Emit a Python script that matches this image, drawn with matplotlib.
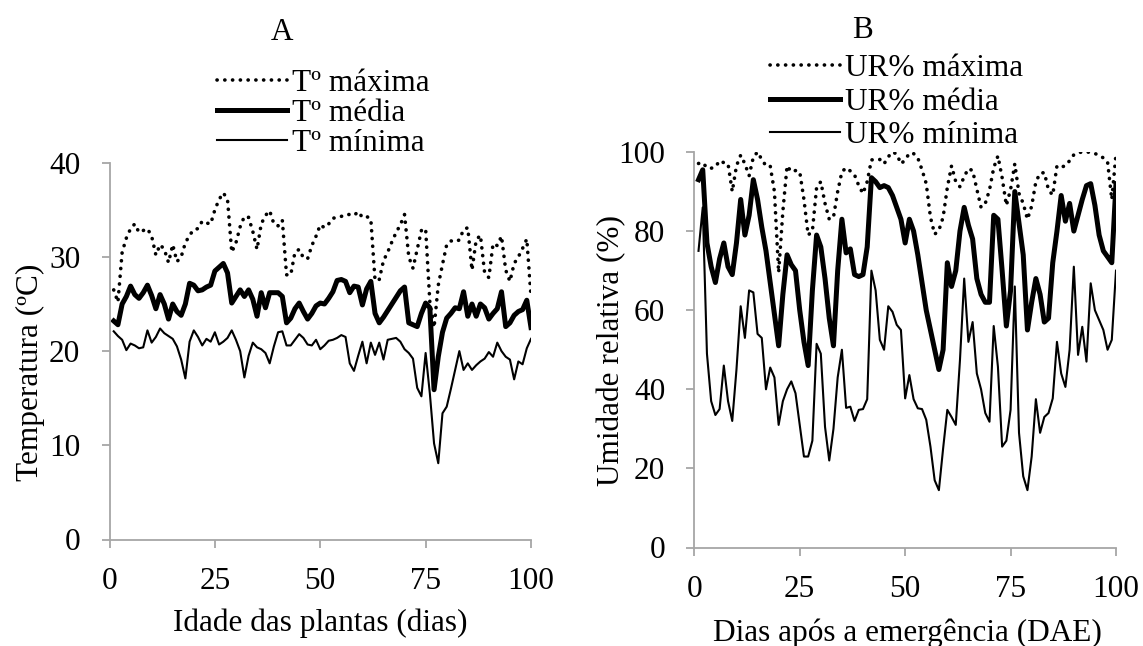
import matplotlib
matplotlib.use("Agg")
import matplotlib.pyplot as plt
from matplotlib.lines import Line2D

plt.rcParams['font.family'] = ['Liberation Serif', 'DejaVu Serif']

days = list(range(1, 101))

# Panel A - temperature (ºC)
t_max = [26.5, 25.2, 30.5, 32.0, 33.0, 33.5, 32.6, 32.8, 33.0, 32.2,
         30.2, 31.3, 30.8, 29.4, 31.3, 29.5, 30.0, 31.5, 32.3, 32.9,
         33.0, 33.8, 33.6, 33.5, 35.0, 36.1, 36.8, 36.1, 30.5, 31.5,
         33.2, 34.3, 34.2, 32.7, 30.8, 33.5, 34.4, 34.9, 33.5, 33.3,
         33.9, 28.1, 28.1, 30.5, 30.8, 29.9, 29.8, 31.2, 32.2, 33.4,
         33.1, 33.5, 34.1, 34.2, 34.3, 34.5, 34.5, 34.4, 34.8, 34.2,
         34.3, 34.0, 27.5, 27.6, 29.6, 30.5, 31.6, 32.6, 33.4, 34.5,
         30.0, 28.8, 30.8, 32.8, 33.0, 25.2, 22.5, 27.0, 29.2, 31.3,
         31.7, 31.6, 31.8, 32.9, 33.1, 28.6, 31.8, 32.3, 28.3, 27.8,
         31.4, 31.2, 32.2, 28.6, 27.4, 29.3, 30.0, 30.9, 31.9, 25.8]
t_med = [23.2, 22.8, 25.0, 25.8, 26.9, 26.0, 25.6, 26.2, 27.0, 25.9,
         24.5, 26.0, 25.0, 23.4, 25.0, 24.2, 23.8, 25.0, 27.2, 27.0,
         26.4, 26.5, 26.8, 27.0, 28.5, 28.9, 29.3, 28.3, 25.1, 25.8,
         26.5, 25.8, 26.5, 25.5, 23.7, 26.2, 24.6, 26.2, 26.2, 26.2,
         25.8, 23.0, 23.5, 24.5, 25.1, 24.2, 23.4, 24.0, 24.8, 25.1,
         25.0, 25.6, 26.3, 27.5, 27.6, 27.4, 26.2, 26.9, 26.8, 24.9,
         26.6, 27.4, 24.0, 23.0, 23.6, 24.3, 25.0, 25.7, 26.4, 26.8,
         23.0, 22.8, 22.6, 24.0, 25.1, 24.6, 15.9, 19.4, 22.0, 23.5,
         24.0, 24.6, 24.5, 26.3, 23.7, 25.0, 23.7, 25.0, 24.6, 23.4,
         24.0, 24.5, 26.3, 22.6, 23.0, 23.8, 24.2, 24.4, 25.4, 22.5]
t_min = [22.1, 21.6, 21.2, 20.1, 20.8, 20.6, 20.3, 20.4, 22.2, 20.9,
         21.5, 22.4, 21.9, 21.6, 21.3, 20.5, 19.1, 17.1, 21.0, 22.2,
         21.5, 20.6, 21.3, 21.0, 22.0, 20.7, 21.0, 21.4, 22.2, 21.2,
         20.0, 17.2, 19.5, 20.9, 20.4, 20.2, 19.8, 18.7, 20.5, 22.0,
         22.1, 20.6, 20.6, 21.2, 21.8, 21.4, 20.7, 20.6, 21.2, 20.2,
         20.6, 21.1, 21.2, 21.4, 21.7, 21.5, 18.7, 17.9, 19.5, 21.0,
         18.7, 20.9, 19.6, 20.9, 19.1, 21.2, 21.3, 21.4, 21.0, 20.2,
         19.8, 19.2, 16.1, 15.2, 19.8, 15.5, 10.2, 8.1, 13.4, 14.1,
         16.0, 18.0, 20.0, 18.0, 18.7, 18.0, 18.5, 18.9, 19.2, 19.9,
         19.4, 20.9, 20.0, 19.4, 19.1, 17.0, 18.9, 18.6, 20.3, 21.3]

# Panel B - relative humidity (%)
ur_max = [97.1, 97.3, 96.0, 95.9, 96.2, 97.8, 97.3, 97.0, 90.0, 96.5,
          99.2, 97.0, 94.0, 98.7, 100.0, 98.1, 96.5, 96.5, 90.0, 69.5,
          85.0, 96.5, 95.0, 95.3, 95.0, 88.0, 79.0, 80.0, 91.0, 92.5,
          87.0, 83.0, 83.5, 90.0, 95.0, 96.0, 95.2, 94.2, 91.5, 89.5,
          92.5, 98.0, 98.1, 98.1, 97.0, 98.8, 100.0, 99.5, 97.0, 98.0,
          99.7, 99.6, 98.5, 95.5, 92.0, 83.5, 79.2, 80.2, 83.5, 91.0,
          96.5, 92.5, 91.2, 93.8, 95.8, 95.3, 90.6, 86.0, 87.0, 90.4,
          96.0, 99.0, 93.5, 86.5, 90.5, 97.0, 89.5, 87.0, 83.0, 86.3,
          92.5, 94.6, 94.8, 90.4, 89.1, 96.5, 96.2, 96.5, 97.8, 99.3,
          99.8, 100.0, 100.0, 99.9, 99.6, 99.2, 98.5, 97.5, 88.0, 99.5]
ur_med = [93.0, 95.5, 77.0, 71.0, 67.0, 73.0, 77.0, 71.0, 69.0, 77.0,
          88.0, 79.0, 84.0, 93.0, 88.0, 81.0, 75.0, 67.0, 59.0, 51.0,
          64.0, 74.0, 71.5, 70.0, 60.0, 52.0, 46.0, 65.0, 79.0, 76.0,
          68.0, 58.0, 51.0, 70.0, 83.0, 74.5, 75.5, 69.0, 68.5, 69.0,
          76.0, 93.5, 92.5, 91.0, 91.5, 91.0, 89.0, 86.0, 83.0, 77.0,
          83.0, 80.0, 74.0, 67.0, 60.0, 55.0, 50.0, 45.0, 50.0, 72.0,
          66.0, 70.0, 80.0, 86.0, 81.5, 78.0, 68.0, 64.0, 62.0, 62.0,
          84.0, 83.0, 70.0, 56.0, 65.0, 90.0, 82.0, 74.0, 55.0, 62.0,
          68.0, 64.0, 57.0, 58.0, 72.0, 80.0, 89.0, 82.5, 87.0, 80.0,
          84.0, 88.0, 91.5, 92.0, 86.5, 79.0, 75.0, 73.5, 72.0, 92.0]
ur_min = [75.0, 86.0, 49.0, 37.0, 33.5, 35.0, 46.0, 37.0, 32.0, 45.0,
          61.0, 53.0, 65.0, 64.5, 54.0, 53.0, 40.0, 45.5, 43.0, 31.0,
          37.0, 40.0, 42.0, 39.0, 31.0, 23.0, 23.0, 27.0, 51.5, 49.0,
          30.5, 22.0, 30.0, 43.0, 50.0, 35.3, 35.6, 32.0, 34.8, 35.0,
          37.5, 70.0, 65.0, 52.5, 50.0, 61.0, 59.6, 56.3, 55.0, 37.7,
          43.6, 37.5, 35.2, 35.0, 32.3, 25.5, 17.0, 14.5, 25.0, 34.8,
          33.0, 31.0, 47.4, 68.0, 52.0, 57.0, 44.0, 40.0, 34.0, 31.8,
          56.0, 45.7, 25.5, 27.0, 34.8, 66.0, 29.0, 18.0, 14.5, 23.0,
          37.5, 29.0, 33.0, 34.0, 37.7, 52.0, 44.0, 40.6, 50.0, 71.0,
          48.7, 55.8, 47.0, 66.8, 60.0, 57.5, 55.0, 50.0, 52.5, 70.0]

labels_A = ['Tº máxima', 'Tº média', 'Tº mínima']
labels_B = ['UR% máxima', 'UR% média', 'UR% mínima']

W, H = 1143, 646
fig = plt.figure(figsize=(W / 100, H / 100), dpi=100)

FS = 22.5
GRAY = '#a6a6a6'
dot_style = dict(color='black', lw=2.6, linestyle=(0, (0.05, 2.1)),
                 dash_capstyle='round', solid_capstyle='round')
thick_style = dict(color='black', lw=3.6, solid_joinstyle='round')
thin_style = dict(color='black', lw=1.5, solid_joinstyle='round')
styles = [dot_style, thick_style, thin_style]


def fx(px):
    return px / W


def fy(py):
    return 1 - py / H


def style_axes(ax):
    for s in ['top', 'right']:
        ax.spines[s].set_visible(False)
    for s in ['left', 'bottom']:
        ax.spines[s].set_color(GRAY)
        ax.spines[s].set_linewidth(1.3)
    ax.tick_params(direction='out', length=6, width=1.3, color=GRAY,
                   labelsize=FS)
    ax.tick_params(axis='x', pad=13.5)
    ax.tick_params(axis='y', pad=15)


def rect(x0, x1, y0, y1):
    return [x0 / W, 1 - y0 / H, (x1 - x0) / W, (y0 - y1) / H]


def legend(x0, x1, xt, rows, labels):
    for yc, st, lab in zip(rows, styles, labels):
        fig.add_artist(Line2D([fx(x0), fx(x1)], [fy(yc), fy(yc)],
                              transform=fig.transFigure, **st))
        fig.text(fx(xt), fy(yc), lab, fontsize=FS, ha='left',
                 va='center_baseline')


# Panel A
axA = fig.add_axes(rect(109.5, 531, 539.5, 162.7))
axA.plot(days, t_max, **dot_style)
axA.plot(days, t_med, **thick_style)
axA.plot(days, t_min, **thin_style)
axA.set_xlim(0, 100)
axA.set_ylim(0, 40)
axA.set_xticks([0, 25, 50, 75, 100])
axA.set_yticks([0, 10, 20, 30, 40])
style_axes(axA)
fig.text(fx(320), fy(623), 'Idade das plantas (dias)', fontsize=FS,
         ha='center', va='center')
fig.text(fx(30), fy(372), 'Temperatura (ºC)', fontsize=FS, rotation=90,
         ha='center', va='center')
fig.text(fx(282), fy(32), 'A', fontsize=FS, ha='center', va='center')
legend(217, 287, 292, [80, 110, 140], labels_A)

# Panel B
axB = fig.add_axes(rect(694.3, 1116, 547.5, 152))
axB.plot(days, ur_max, **dot_style)
axB.plot(days, ur_med, **thick_style)
axB.plot(days, ur_min, **thin_style)
axB.set_xlim(0, 100)
axB.set_ylim(0, 100)
axB.set_xticks([0, 25, 50, 75, 100])
axB.set_yticks([0, 20, 40, 60, 80, 100])
style_axes(axB)
fig.text(fx(907), fy(633), 'Dias após a emergência (DAE)', fontsize=FS,
         ha='center', va='center')
fig.text(fx(612), fy(350), 'Umidade relativa (%)', fontsize=FS,
         rotation=90, ha='center', va='center')
fig.text(fx(862), fy(30), 'B', fontsize=FS, ha='center', va='center')
legend(770, 840, 845, [65, 99, 132], labels_B)

fig.savefig('out.png', dpi=100)
